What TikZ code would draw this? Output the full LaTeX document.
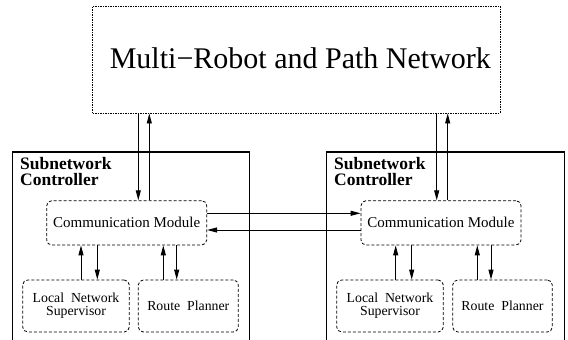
\documentclass[tikz,border=0pt]{standalone}
\usepackage{fontspec}
\setmainfont{Liberation Serif}[BoldFont={Liberation Serif Bold}]
\usetikzlibrary{arrows.meta}
\tikzset{
  netbox/.style={draw, line width=0.9pt, dash pattern=on 1.6pt off 0.9pt, inner sep=0pt},
  modbox/.style={draw, line width=0.8pt, dash pattern=on 3pt off 2pt, rounded corners=5pt, inner sep=0pt, align=center},
  ctrlbox/.style={draw, line width=1.2pt},
  arr/.style={line width=0.9pt, -{Triangle[length=10pt,width=5pt]}},
  ctrltitle/.style={anchor=base west, align=left, inner sep=0pt, font=\bfseries\fontsize{17.5}{16.4}\selectfont},
  commtext/.style={font=\fontsize{15}{16}\selectfont},
  subtext/.style={font=\fontsize{13.8}{13}\selectfont}
}
\begin{document}
\begin{tikzpicture}[x=1pt, y=-1pt]
\useasboundingbox (0,0) rectangle (568,340);

% top-level network
\node[netbox, minimum width=407.3pt, minimum height=107pt] (net) at (296.35,59.5)
  {\hspace{8pt}\raisebox{2.7pt}{\fontsize{30}{32}\selectfont Multi−Robot and Path Network}};

% controller frames (open at the bottom)
\coordinate (cl1) at (12.7,340); \coordinate (cl2) at (12.7,152);
\coordinate (cl3) at (249.7,152); \coordinate (cl4) at (249.7,340);
\coordinate (cr1) at (326.7,340); \coordinate (cr2) at (326.7,152);
\coordinate (cr3) at (564.3,152); \coordinate (cr4) at (564.3,340);
\draw[ctrlbox] (cl1) -- (cl2) -- (cl3) -- (cl4);
\draw[ctrlbox] (cr1) -- (cr2) -- (cr3) -- (cr4);

% titles: the base anchor sits on the last line
\node[ctrltitle] (titleL) at (20,185.7) {Subnetwork\\Controller};
\node[ctrltitle] (titleR) at (334,185.7) {Subnetwork\\Controller};

% modules
\node[modbox, commtext, minimum width=160pt, minimum height=44.3pt] (cmL) at (126.7,222.85) {Communication Module};
\node[modbox, commtext, minimum width=160pt, minimum height=44.3pt] (cmR) at (441,222.85) {Communication Module};

\node[modbox, subtext, minimum width=106.6pt, minimum height=52pt] (lnsL) at (76,306) {Local\hspace{0.5em}Network\\Supervisor};
\node[modbox, subtext, minimum width=100pt, minimum height=52pt] (rpL) at (188.3,306) {Route\hspace{0.5em}Planner};
\node[modbox, subtext, minimum width=106.6pt, minimum height=52pt] (lnsR) at (390,306) {Local\hspace{0.5em}Network\\Supervisor};
\node[modbox, subtext, minimum width=99.6pt, minimum height=52pt] (rpR) at (502.5,306) {Route\hspace{0.5em}Planner};

% links to the network
\draw[arr] (net.south -| 138.3,0) -- (cmL.north -| 138.3,0);
\draw[arr] (cmL.north -| 149.3,0) -- (net.south -| 149.3,0);
\draw[arr] (net.south -| 436.7,0) -- (cmR.north -| 436.7,0);
\draw[arr] (cmR.north -| 447.7,0) -- (net.south -| 447.7,0);

% links between the communication modules
\draw[arr] (cmL.east |- 0,213.3) -- (cmR.west |- 0,213.3);
\draw[arr] (cmR.west |- 0,230) -- (cmL.east |- 0,230);

% links inside each controller
\draw[arr] (lnsL.north -| 81,0) -- (cmL.south -| 81,0);
\draw[arr] (cmL.south -| 97.3,0) -- (lnsL.north -| 97.3,0);
\draw[arr] (rpL.north -| 163.3,0) -- (cmL.south -| 163.3,0);
\draw[arr] (cmL.south -| 176.7,0) -- (rpL.north -| 176.7,0);

\draw[arr] (lnsR.north -| 395.7,0) -- (cmR.south -| 395.7,0);
\draw[arr] (cmR.south -| 411.7,0) -- (lnsR.north -| 411.7,0);
\draw[arr] (rpR.north -| 477.3,0) -- (cmR.south -| 477.3,0);
\draw[arr] (cmR.south -| 491,0) -- (rpR.north -| 491,0);
\end{tikzpicture}
\end{document}
